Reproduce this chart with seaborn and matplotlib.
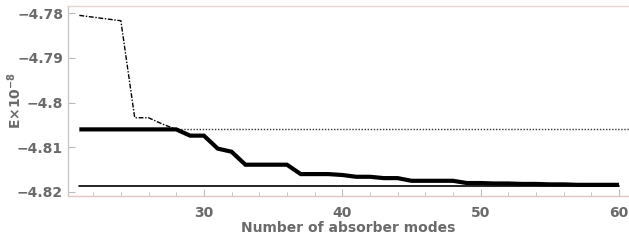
import numpy as np
import pandas as pd
import matplotlib
matplotlib.use("Agg")
import matplotlib.pyplot as plt
import seaborn as sns
from matplotlib.ticker import MultipleLocator

# ---- data ----
modes = list(range(21, 61))
converged = [-4.8060] * 8 + [-4.8074, -4.8074, -4.8103, -4.8110,
             -4.8139, -4.8139, -4.8139, -4.8139,
             -4.8160, -4.8160, -4.8160, -4.8162,
             -4.8166, -4.8166, -4.8169, -4.8169,
             -4.8175, -4.8175, -4.8175, -4.8175,
             -4.8180, -4.8180, -4.8181, -4.8181, -4.8182, -4.8182,
             -4.8183, -4.8183, -4.8184, -4.8184, -4.8184, -4.8184]
early_modes = [21, 24, 25, 26, 27, 28]
early_vals = [-4.7805, -4.7817, -4.8034, -4.8034, -4.8048, -4.8060]
ref_dotted = -4.8060
ref_exact = -4.8187
x_ticks = [30, 40, 50, 60]
y_ticks = [-4.78, -4.79, -4.80, -4.81, -4.82]
y_ticklabels = ["\u22124.78", "\u22124.79", "\u22124.8", "\u22124.81", "\u22124.82"]

sns.set_theme(style="white")
plt.rcParams['font.family'] = ['DejaVu Sans']

fig = plt.figure(figsize=(6.29, 2.41), dpi=100)
ax = fig.add_axes([68/629, 1 - 196/241, 1 - 68/629, 190/241])

grey = "#6a6a6a"
xl = (20.18, 60.72)

df_ref = pd.DataFrame({"x": [21.3, xl[1]], "y": [ref_dotted, ref_dotted]})
sns.lineplot(data=df_ref, x="x", y="y", ax=ax, color="#333333", lw=1.0,
             linestyle=(0, (1, 1.2)))
df_ex = pd.DataFrame({"x": [21, 60], "y": [ref_exact, ref_exact]})
sns.lineplot(data=df_ex, x="x", y="y", ax=ax, color="black", lw=1.2)
df_early = pd.DataFrame({"x": early_modes, "y": early_vals})
sns.lineplot(data=df_early, x="x", y="y", ax=ax, color="black", lw=1.0,
             linestyle=(0, (3.5, 1.2, 1, 1.2)))
df_conv = pd.DataFrame({"x": modes, "y": converged})
sns.lineplot(data=df_conv, x="x", y="y", ax=ax, color="black", lw=3.0,
             solid_joinstyle="miter", solid_capstyle="butt")

ax.set_xlim(*xl)
ax.set_ylim(-4.8209, -4.7784)
ax.set_xticks(x_ticks)
ax.xaxis.set_minor_locator(MultipleLocator(2))
ax.set_yticks(y_ticks)
ax.set_yticklabels(y_ticklabels)
ax.tick_params(axis="both", which="major", direction="in", length=5, width=0.8,
               colors="#b9b9b9", labelcolor=grey, labelsize=10, bottom=True, left=True)
ax.tick_params(axis="x", which="minor", direction="in", length=3, width=0.6,
               colors="#b9b9b9", bottom=True)
ax.tick_params(axis="x", pad=7)
for lab in ax.get_xticklabels() + ax.get_yticklabels():
    lab.set_fontweight("bold")

ax.spines["left"].set_color("#c8c8c8")
ax.spines["bottom"].set_color("#e2c4c0")
ax.spines["top"].set_color("#e6d6cf")
ax.spines["right"].set_visible(False)
for s in ["left", "bottom", "top"]:
    ax.spines[s].set_linewidth(1.0)

ax.set_xlabel("Number of absorber modes", fontsize=10, fontweight="bold", color=grey, labelpad=1)
ax.set_ylabel("E\u00d710$^{\\mathbf{-8}}$", fontsize=10, fontweight="bold", color=grey)
ax.yaxis.set_label_coords(-0.078, 0.5)

fig.savefig("out.png", dpi=100)
